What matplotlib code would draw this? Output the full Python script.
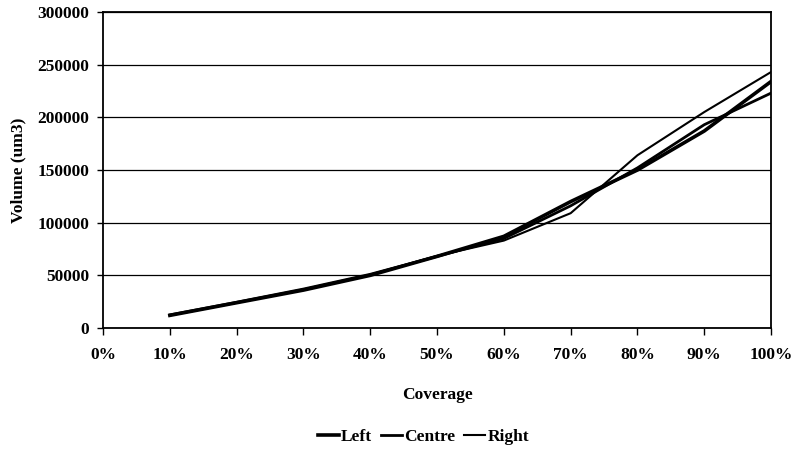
import matplotlib.pyplot as plt
from matplotlib.ticker import FuncFormatter, MultipleLocator

coverage = [0.1, 0.2, 0.3, 0.4, 0.5, 0.6, 0.7, 0.8, 0.9, 1.0]
left = [12000, 24000, 36000, 50000, 68000, 87000, 120000, 150000, 187000, 234000]
centre = [12500, 24500, 37000, 51000, 68000, 85000, 116000, 152000, 193000, 223000]
right = [12000, 24000, 36500, 50500, 68500, 83000, 109000, 164000, 205000, 243000]

plt.rcParams['font.family'] = ['Liberation Serif', 'DejaVu Serif']
plt.rcParams['font.weight'] = 'bold'
plt.rcParams['font.size'] = 12.5

fig = plt.figure(figsize=(7.99, 4.51), dpi=100)
ax = fig.add_axes([0.129, 0.2727, 0.836, 0.7007])

ax.plot(coverage, left, color='black', lw=2.6, label='Left')
ax.plot(coverage, centre, color='black', lw=2.0, label='Centre')
ax.plot(coverage, right, color='black', lw=1.5, label='Right')

ax.set_xlim(0, 1)
ax.set_ylim(0, 300000)
ax.xaxis.set_major_locator(MultipleLocator(0.1))
ax.yaxis.set_major_locator(MultipleLocator(50000))
ax.xaxis.set_major_formatter(FuncFormatter(lambda v, p: f"{v * 100:.0f}%"))
ax.yaxis.set_major_formatter(FuncFormatter(lambda v, p: f"{v:.0f}"))
ax.grid(axis='y', color='black', lw=0.9)
ax.set_axisbelow(True)

for s in ax.spines.values():
    s.set_linewidth(1.3)
ax.tick_params(axis='x', direction='out', length=5, width=1, pad=9)
ax.tick_params(axis='y', direction='out', length=4, width=1, pad=6)

ax.set_xlabel('Coverage', fontweight='bold', labelpad=17)
ax.set_ylabel('Volume (um3)', fontweight='bold', labelpad=8)

fig.legend(loc='center', bbox_to_anchor=(0.53, 0.031), ncol=3, frameon=False,
           handlelength=1.2, handletextpad=0.15, columnspacing=0.5)

fig.savefig('out.png', dpi=100)
